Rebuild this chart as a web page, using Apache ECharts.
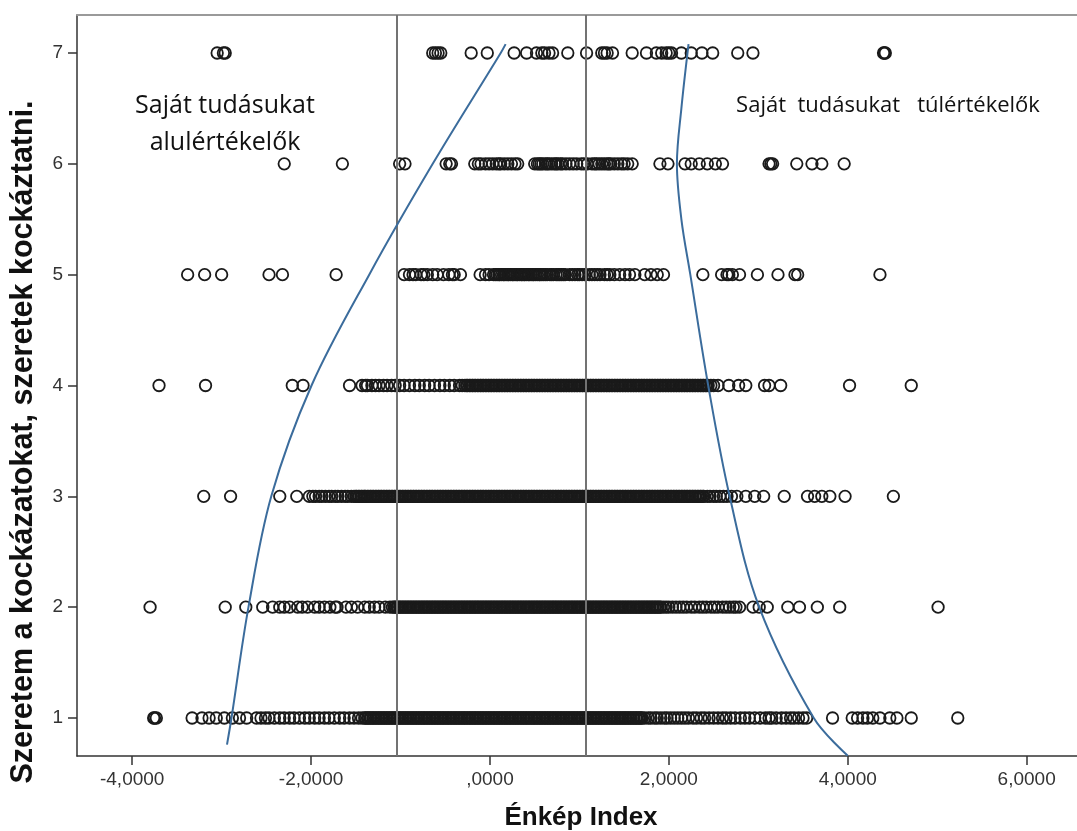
<!DOCTYPE html>
<html>
<head>
<meta charset="utf-8">
<script src="https://cdn.jsdelivr.net/npm/echarts@6/dist/echarts.min.js"></script>
<style>
  html, body { margin: 0; padding: 0; background: #fff; }
  #chart { width: 1077px; height: 831px; }
</style>
</head>
<body>
<div id="chart"></div>
<script>
// Answer categories of the risk item (y) and tick values of the self-image index (x)
const yLevels = [1, 2, 3, 4, 5, 6, 7];
const xTicks = [-4, -2, 0, 2, 4, 6];

// Énkép Index values of respondents, one group of lists per answer category
const level1Low = [-3.76,-3.75,-3.73,-3.33,-3.22,-3.14,-3.06,-2.97,-2.88,-2.80,-2.72,
  -2.61,-2.56,-2.51,-2.47,-2.41,-2.35,-2.30,-2.24,-2.19,-2.13,-2.07,-2.02,-1.96,-1.91,-1.85,-1.80,-1.74,-1.68,-1.63,-1.57,-1.52,-1.47,-1.43];
const level1Core = [-1.40,-1.39,-1.37,-1.36,-1.34,-1.33,-1.31,-1.30,-1.28,-1.27,-1.25,-1.24,-1.22,-1.21,-1.19,-1.18,-1.16,-1.15,-1.13,-1.12,
  -1.10,-1.09,-1.07,-1.06,-1.04,-1.03,-1.01,-1.00,-0.98,-0.97,-0.95,-0.94,-0.92,-0.91,-0.89,-0.88,-0.86,-0.85,-0.83,-0.82,-0.80,-0.79,-0.77,-0.76,
  -0.74,-0.73,-0.71,-0.70,-0.68,-0.67,-0.65,-0.64,-0.62,-0.61,-0.59,-0.58,-0.56,-0.55,-0.53,-0.52,-0.50,-0.49,-0.47,-0.46,-0.44,-0.43,-0.41,-0.40,
  -0.38,-0.37,-0.35,-0.34,-0.32,-0.31,-0.29,-0.28,-0.26,-0.25,-0.23,-0.22,-0.20,-0.19,-0.17,-0.16,-0.14,-0.13,-0.11,-0.10,-0.08,-0.07,-0.05,-0.04,
  -0.02,-0.01,0.01,0.02,0.04,0.05,0.07,0.08,0.10,0.11,0.13,0.14,0.16,0.17,0.19,0.20,0.22,0.23,0.25,0.26,0.28,0.29,0.31,0.32,0.34,0.35,0.37,0.38,
  0.40,0.41,0.43,0.44,0.46,0.47,0.49,0.50,0.52,0.53,0.55,0.56,0.58,0.59,0.61,0.62,0.64,0.65,0.67,0.68,0.70,0.71,0.73,0.74,0.76,0.77,0.79,0.80,
  0.82,0.83,0.85,0.86,0.88,0.89,0.91,0.92,0.94,0.95,0.97,0.98,1.00,1.01,1.03,1.04,1.06,1.07,1.09,1.10,1.12,1.13,1.15,1.16,1.18,1.19,1.21,1.22,
  1.24,1.25,1.27,1.28,1.30,1.31,1.33,1.34,1.36,1.37,1.39,1.40,1.42,1.43,1.45,1.46,1.48,1.49,1.51,1.52,1.54,1.55,1.57,1.58,1.60,1.61,1.63,1.64,
  1.66,1.67,1.69,1.70];
const level1High = [1.73,1.77,1.80,1.84,1.87,1.91,1.95,1.98,2.02,2.06,2.10,2.14,2.18,2.22,2.27,2.31,2.36,2.40,2.45,2.50,2.55,2.60,2.64,2.69,2.74,
  2.80,2.85,2.90,2.96,3.02,3.08,3.12,3.15,3.20,3.26,3.31,3.36,3.40,3.45,3.50,3.54,
  3.83,4.05,4.11,4.17,4.22,4.28,4.36,4.47,4.55,4.71,5.23];

const level2Low = [-3.80,-2.96,-2.73,-2.54,
  -2.43,-2.35,-2.30,-2.24,-2.15,-2.10,-2.04,-1.96,-1.91,-1.85,-1.79,-1.73,-1.71,-1.61,-1.55,-1.48,-1.40,-1.35,-1.29,-1.24,-1.17,-1.12,-1.09];
const level2Core = [-1.07,-1.06,-1.04,-1.03,-1.01,-1.00,-0.98,-0.97,-0.95,-0.94,-0.92,-0.91,-0.89,-0.88,-0.86,-0.85,-0.83,-0.82,-0.80,-0.79,
  -0.77,-0.76,-0.74,-0.73,-0.71,-0.70,-0.68,-0.67,-0.65,-0.64,-0.62,-0.61,-0.59,-0.58,-0.56,-0.55,-0.53,-0.52,-0.50,-0.49,-0.47,-0.46,-0.44,-0.43,
  -0.41,-0.40,-0.38,-0.37,-0.35,-0.34,-0.32,-0.31,-0.29,-0.28,-0.26,-0.25,-0.23,-0.22,-0.20,-0.19,-0.17,-0.16,-0.14,-0.13,-0.11,-0.10,-0.08,-0.07,
  -0.05,-0.04,-0.02,-0.01,0.01,0.02,0.04,0.05,0.07,0.08,0.10,0.11,0.13,0.14,0.16,0.17,0.19,0.20,0.22,0.23,0.25,0.26,0.28,0.29,0.31,0.32,0.34,0.35,
  0.37,0.38,0.40,0.41,0.43,0.44,0.46,0.47,0.49,0.50,0.52,0.53,0.55,0.56,0.58,0.59,0.61,0.62,0.64,0.65,0.67,0.68,0.70,0.71,0.73,0.74,0.76,0.77,
  0.79,0.80,0.82,0.83,0.85,0.86,0.88,0.89,0.91,0.92,0.94,0.95,0.97,0.98,1.00,1.01,1.03,1.04,1.06,1.07,1.09,1.10,1.12,1.13,1.15,1.16,1.18,1.19,
  1.21,1.22,1.24,1.25,1.27,1.28,1.30,1.31,1.33,1.34,1.36,1.37,1.39,1.40,1.42,1.43,1.45,1.46,1.48,1.49,1.51,1.52,1.54,1.55,1.57,1.58,1.60,1.61,
  1.63,1.64,1.66,1.67,1.69,1.70,1.72,1.73,1.75,1.76,1.78,1.79,1.81,1.82,1.84,1.85,1.87,1.88,1.90,1.91];
const level2High = [1.94,1.97,2.00,2.04,2.08,2.12,2.16,2.20,2.25,2.29,2.34,2.38,2.42,2.47,2.51,2.55,2.60,2.64,2.68,2.72,2.75,
  2.79,2.94,3.01,3.10,3.33,3.46,3.66,3.91,5.01];

const level3Low = [-3.20,-2.90,-2.35,-2.16,
  -2.02,-1.98,-1.95,-1.91,-1.88,-1.84,-1.80,-1.77,-1.73,-1.70,-1.66,-1.62,-1.59,-1.55,-1.52];
const level3Core = [-1.50,-1.49,-1.47,-1.46,-1.44,-1.43,-1.41,
  -1.40,-1.39,-1.37,-1.36,-1.34,-1.33,-1.31,-1.30,-1.28,-1.27,-1.25,-1.24,-1.22,-1.21,-1.19,-1.18,-1.16,-1.15,-1.13,-1.12,
  -1.10,-1.09,-1.07,-1.06,-1.04,-1.03,-1.01,-1.00,-0.98,-0.97,-0.95,-0.94,-0.92,-0.91,-0.89,-0.88,-0.86,-0.85,-0.83,-0.82,-0.80,-0.79,-0.77,-0.76,
  -0.74,-0.73,-0.71,-0.70,-0.68,-0.67,-0.65,-0.64,-0.62,-0.61,-0.59,-0.58,-0.56,-0.55,-0.53,-0.52,-0.50,-0.49,-0.47,-0.46,-0.44,-0.43,-0.41,-0.40,
  -0.38,-0.37,-0.35,-0.34,-0.32,-0.31,-0.29,-0.28,-0.26,-0.25,-0.23,-0.22,-0.20,-0.19,-0.17,-0.16,-0.14,-0.13,-0.11,-0.10,-0.08,-0.07,-0.05,-0.04,
  -0.02,-0.01,0.01,0.02,0.04,0.05,0.07,0.08,0.10,0.11,0.13,0.14,0.16,0.17,0.19,0.20,0.22,0.23,0.25,0.26,0.28,0.29,0.31,0.32,0.34,0.35,0.37,0.38,
  0.40,0.41,0.43,0.44,0.46,0.47,0.49,0.50,0.52,0.53,0.55,0.56,0.58,0.59,0.61,0.62,0.64,0.65,0.67,0.68,0.70,0.71,0.73,0.74,0.76,0.77,0.79,0.80,
  0.82,0.83,0.85,0.86,0.88,0.89,0.91,0.92,0.94,0.95,0.97,0.98,1.00,1.01,1.03,1.04,1.06,1.07,1.09,1.10,1.12,1.13,1.15,1.16,1.18,1.19,1.21,1.22,
  1.24,1.25,1.27,1.28,1.30,1.31,1.33,1.34,1.36,1.37,1.39,1.40,1.42,1.43,1.45,1.46,1.48,1.49,1.51,1.52,1.54,1.55,1.57,1.58,1.60,1.61,1.63,1.64,
  1.66,1.67,1.69,1.70,1.72,1.73,1.75,1.76,1.78,1.79,1.81,1.82,1.84,1.85,1.87,1.88,1.90,1.91,1.93,1.94,1.96,1.97,1.99,2.00,2.02,2.03,2.05,2.06,
  2.08,2.09,2.11,2.12,2.14,2.15,2.17,2.18,2.20,2.21,2.23,2.24,2.26,2.27,2.29,2.30,2.32,2.33,2.35,2.36,2.38,2.39];
const level3High = [2.43,2.46,2.50,2.53,2.57,2.61,2.65,2.70,
  2.76,2.86,2.96,3.06,3.29,3.55,3.63,3.71,3.80,3.97,4.51];

const level4Low = [-3.70,-3.18,-2.21,-2.09,-1.57,
  -1.43,-1.39,-1.37,-1.32,-1.28,-1.24,-1.19,-1.15,-1.10,-1.06,-1.01,-0.96,-0.90,-0.84,-0.79,-0.73,-0.68,-0.62,-0.56,-0.51,-0.45,-0.40,-0.34,-0.31];
const level4Core = [-0.28,-0.26,-0.25,-0.23,-0.22,-0.20,-0.19,-0.17,-0.16,-0.14,-0.13,-0.11,-0.10,-0.08,-0.07,-0.05,-0.04,
  -0.02,-0.01,0.01,0.02,0.04,0.05,0.07,0.08,0.10,0.11,0.13,0.14,0.16,0.17,0.19,0.20,0.22,0.23,0.25,0.26,0.28,0.29,0.31,0.32,0.34,0.35,0.37,0.38,
  0.40,0.41,0.43,0.44,0.46,0.47,0.49,0.50,0.52,0.53,0.55,0.56,0.58,0.59,0.61,0.62,0.64,0.65,0.67,0.68,0.70,0.71,0.73,0.74,0.76,0.77,0.79,0.80,
  0.82,0.83,0.85,0.86,0.88,0.89,0.91,0.92,0.94,0.95,0.97,0.98,1.00,1.01,1.03,1.04,1.06,1.07,1.09,1.10,1.12,1.13,1.15,1.16,1.18,1.19,1.21,1.22,
  1.24,1.25,1.27,1.28,1.30,1.31,1.33,1.34,1.36,1.37,1.39,1.40,1.42,1.43,1.45,1.46,1.48,1.49,1.51,1.52,1.54,1.55,1.57,1.58,1.60,1.61,1.63,1.64,
  1.66,1.67,1.69,1.70,1.72,1.73,1.75,1.76,1.78,1.79,1.81,1.82,1.84,1.85,1.87,1.88,1.90,1.91,1.93,1.94,1.96,1.97,1.99,2.00,2.02,2.03,2.05,2.06,
  2.08,2.09,2.11,2.12,2.14,2.15,2.17,2.18,2.20,2.21,2.23,2.24,2.26,2.27,2.29,2.30,2.32,2.33,2.35,2.36,2.38,2.39,2.41,2.42,2.44];
const level4High = [2.47,2.50,2.55,2.67,2.78,2.86,3.07,3.12,3.25,4.02,4.71];

const level5 = [-3.38,-3.19,-3.00,-2.47,-2.32,-1.72,
  -0.96,-0.90,-0.86,-0.83,-0.77,-0.74,-0.70,-0.64,-0.59,-0.52,-0.46,-0.42,-0.40,-0.33,
  -0.11,-0.05,-0.01,0.04,0.06,0.08,0.10,0.11,0.13,0.15,0.16,0.18,0.20,0.21,0.23,0.25,0.26,0.28,0.30,0.31,0.33,0.35,0.36,0.38,0.39,0.41,0.43,
  0.44,0.46,0.48,0.49,0.51,0.53,0.55,0.56,0.58,0.60,0.62,0.64,0.67,0.69,0.71,0.74,0.76,0.78,0.80,0.82,0.84,0.89,0.92,0.95,0.98,1.00,1.03,1.06,
  1.11,1.14,1.17,1.20,1.23,1.28,1.31,1.34,1.39,1.45,1.51,1.56,1.62,
  1.73,1.80,1.87,1.94,2.38,2.59,2.65,2.67,2.71,2.79,2.99,3.22,3.41,3.44,4.36];

const level6 = [-2.30,-1.65,-1.01,-0.95,-0.49,-0.45,-0.43,-0.17,-0.13,-0.10,-0.05,-0.01,0.03,0.07,0.10,0.12,0.16,0.20,0.24,0.28,0.31,
  0.50,0.53,0.55,0.57,0.59,0.62,0.64,0.66,0.69,0.72,0.74,0.76,0.79,0.81,0.85,0.89,0.93,0.97,1.02,1.05,1.09,1.14,1.17,1.19,1.22,1.25,1.28,1.31,
  1.33,1.35,1.39,1.43,1.47,1.50,1.54,1.59,
  1.90,1.99,2.18,2.25,2.34,2.43,2.52,2.60,3.12,3.14,3.16,3.43,3.60,3.71,3.96];

const level7 = [-3.05,-2.98,-2.96,-0.64,-0.61,-0.58,-0.55,-0.21,-0.03,0.27,0.41,0.52,0.58,0.61,0.66,0.70,0.87,
  1.08,1.25,1.28,1.31,1.37,1.59,1.75,1.86,1.92,1.97,2.00,2.03,2.14,2.25,2.37,2.49,2.77,2.94,4.40,4.41,4.42];

// Cut points of the self-image index
const cutPoints = [-1.04, 1.07];

// Hand-drawn boundaries of the under- and overestimating groups, [index, category]
const underBoundary = [[-2.94,0.76],[-2.89,1.0],[-2.70,2.0],[-2.445,3.0],[-1.995,4.0],[-1.35,5.0],[-0.64,6.0],[0.12,7.0],[0.175,7.08]];
const overBoundary = [[2.22,7.08],[2.14,6.5],[2.09,6.0],[2.14,5.5],[2.24,5.0],[2.44,4.0],[2.68,3.0],[3.01,2.0],[3.62,1.0],[4.00,0.66]];

const levels = [
  level1Low.concat(level1Core, level1High),
  level2Low.concat(level2Core, level2High),
  level3Low.concat(level3Core, level3High),
  level4Low.concat(level4Core, level4High),
  level5, level6, level7
];
const points = [];
levels.forEach((vals, i) => vals.forEach(v => points.push([v, yLevels[i]])));

function fmtIndex(v) {
  if (v === 0) return ',0000';
  return (v < 0 ? '-' : '') + Math.abs(v).toFixed(4).replace('.', ',');
}

const sansFamily = '"Liberation Sans", Arial, sans-serif';
const tickFont = { fontFamily: sansFamily, fontSize: 19, color: '#333' };
const noteFont = '"Open Sans", "Noto Sans", sans-serif';
const xMin = -4.617, xMax = 6.563;

const chart = echarts.init(document.getElementById('chart'), null, { renderer: 'canvas' });
chart.setOption({
  animation: false,
  backgroundColor: '#fff',
  grid: { left: 77, right: 0, top: 15, bottom: 75, show: false },
  xAxis: [
    {
      type: 'value', min: xMin, max: xMax,
      axisLine: { show: true, onZero: false, lineStyle: { color: '#333', width: 1.5 } },
      axisTick: { show: true, length: 9, customValues: xTicks, lineStyle: { color: '#333', width: 1.5 } },
      axisLabel: { customValues: xTicks, margin: 14, formatter: fmtIndex, ...tickFont },
      splitLine: { show: false }
    },
    {
      // plain frame line along the top of the plot
      type: 'value', position: 'top', min: xMin, max: xMax,
      axisLine: { show: true, onZero: false, lineStyle: { color: '#9a9a9a', width: 2 } },
      axisTick: { show: false }, axisLabel: { show: false }, splitLine: { show: false }
    }
  ],
  yAxis: {
    type: 'value', min: 0.657, max: 7.343,
    axisLine: { show: true, onZero: false, lineStyle: { color: '#333', width: 1.5 } },
    axisTick: { show: true, length: 9, customValues: yLevels, lineStyle: { color: '#333', width: 1.5 } },
    axisLabel: { customValues: yLevels, margin: 14, formatter: v => String(v), ...tickFont },
    splitLine: { show: false }
  },
  series: [
    {
      type: 'scatter',
      data: points,
      symbol: 'circle',
      symbolSize: 11.5,
      silent: true,
      large: false,
      progressive: 0,
      itemStyle: { color: 'rgba(0,0,0,0)', borderColor: '#1a1a1a', borderWidth: 1.8, opacity: 1 },
      markLine: {
        silent: true, symbol: 'none', animation: false,
        label: { show: false },
        lineStyle: { color: '#737373', width: 2, type: 'solid' },
        data: cutPoints.map(v => ({ xAxis: v }))
      }
    },
    {
      type: 'line', data: underBoundary, smooth: 0.35, showSymbol: false, silent: true,
      lineStyle: { color: '#3b6c9c', width: 2 }, z: 5
    },
    {
      type: 'line', data: overBoundary, smooth: 0.35, showSymbol: false, silent: true,
      lineStyle: { color: '#3b6c9c', width: 2 }, z: 5
    }
  ],
  graphic: [
    {
      // axis titles
      type: 'text', x: 24, y: 442, rotation: Math.PI / 2, z: 10,
      style: {
        text: 'Szeretem a kockázatokat, szeretek kockáztatni.',
        font: 'bold 30.5px ' + sansFamily, fill: '#111', textAlign: 'center', textVerticalAlign: 'middle'
      }
    },
    {
      type: 'text', x: 581, y: 818, z: 10,
      style: { text: 'Énkép Index', font: 'bold 26px ' + sansFamily, fill: '#111', textAlign: 'center', textVerticalAlign: 'middle' }
    },
    {
      // group annotations
      type: 'text', x: 225, y: 87, z: 10,
      style: { text: 'Saját tudásukat\nalulértékelők', font: '25px ' + noteFont, fill: '#111', textAlign: 'center', textVerticalAlign: 'top', lineHeight: 37 }
    },
    {
      type: 'text', x: 888, y: 106, z: 10,
      style: { text: 'Saját  tudásukat   túlértékelők', font: '22px ' + noteFont, fill: '#111', textAlign: 'center', textVerticalAlign: 'middle' }
    }
  ]
});
</script>
</body>
</html>
